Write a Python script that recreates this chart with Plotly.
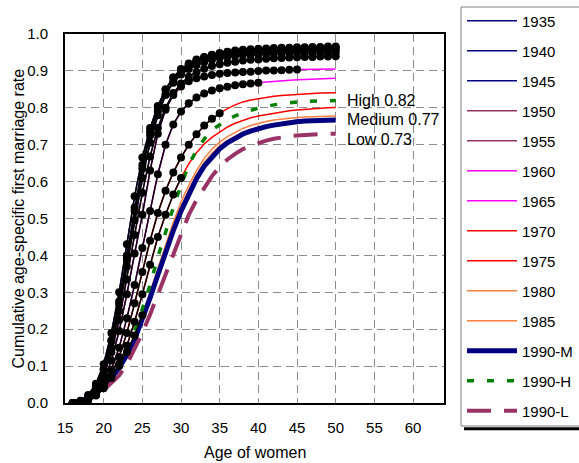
import plotly.graph_objects as go

# Ages of women (x axis)
AGES = list(range(16, 51))

# Cumulative age-specific first marriage rates by birth cohort, ages 16..50
C1935 = [0.000, 0.004, 0.014, 0.036, 0.078, 0.150, 0.250, 0.370, 0.495, 0.610,
         0.705, 0.780, 0.835, 0.872, 0.898, 0.916, 0.928, 0.937, 0.943, 0.948,
         0.952, 0.955, 0.957, 0.959, 0.960, 0.961, 0.962, 0.963, 0.963, 0.964,
         0.964, 0.965, 0.965, 0.966, 0.966]
C1940 = [0.000, 0.004, 0.016, 0.042, 0.090, 0.170, 0.275, 0.400, 0.530, 0.645,
         0.735, 0.800, 0.848, 0.882, 0.905, 0.920, 0.931, 0.938, 0.944, 0.948,
         0.951, 0.953, 0.955, 0.956, 0.957, 0.958, 0.959, 0.960, 0.960, 0.961,
         0.961, 0.962, 0.962, 0.962, 0.963]
C1945 = [0.000, 0.006, 0.022, 0.052, 0.105, 0.190, 0.300, 0.430, 0.560, 0.665,
         0.745, 0.805, 0.850, 0.882, 0.903, 0.917, 0.927, 0.934, 0.939, 0.943,
         0.946, 0.948, 0.950, 0.951, 0.952, 0.953, 0.954, 0.954, 0.955, 0.955,
         0.956, 0.956, 0.956, 0.957, 0.957]
C1950 = [0.000, 0.005, 0.018, 0.045, 0.092, 0.168, 0.268, 0.390, 0.520, 0.635,
         0.725, 0.790, 0.836, 0.868, 0.890, 0.905, 0.916, 0.924, 0.930, 0.935,
         0.938, 0.941, 0.943, 0.944, 0.945, 0.946, 0.947, 0.948, 0.948, 0.949,
         0.949, 0.949, 0.950, 0.950, 0.950]
C1955 = [0.000, 0.004, 0.014, 0.036, 0.075, 0.138, 0.225, 0.335, 0.455, 0.570,
         0.668, 0.745, 0.800, 0.840, 0.866, 0.884, 0.897, 0.906, 0.913, 0.918,
         0.922, 0.925, 0.928, 0.930, 0.931, 0.933, 0.934, 0.935, 0.936, 0.937,
         0.938, 0.938, 0.939, 0.939, 0.940]
C1960 = [0.000, 0.003, 0.012, 0.030, 0.062, 0.115, 0.195, 0.295, 0.405, 0.510,
         0.630, 0.730, 0.795, 0.835, 0.858, 0.872, 0.880, 0.885, 0.889, 0.892,
         0.894, 0.896, 0.897, 0.898, 0.900, 0.901, 0.901, 0.902, 0.903, 0.904,
         0.904, 0.905, 0.905, 0.905, 0.905]
C1965 = [0.000, 0.003, 0.010, 0.025, 0.050, 0.090, 0.150, 0.230, 0.320, 0.420,
         0.520, 0.620, 0.700, 0.755, 0.790, 0.812, 0.828, 0.839, 0.847, 0.853,
         0.857, 0.861, 0.864, 0.866, 0.868, 0.870, 0.872, 0.873, 0.875, 0.876,
         0.877, 0.878, 0.879, 0.879, 0.880]
C1970 = [0.000, 0.003, 0.009, 0.022, 0.044, 0.078, 0.125, 0.190, 0.270, 0.355,
         0.440, 0.515, 0.575, 0.625, 0.665, 0.700, 0.728, 0.752, 0.770, 0.785,
         0.798, 0.808, 0.816, 0.821, 0.825, 0.828, 0.831, 0.833, 0.835, 0.837,
         0.838, 0.839, 0.840, 0.840, 0.841]
C1975 = [0.000, 0.003, 0.008, 0.020, 0.040, 0.068, 0.105, 0.155, 0.220, 0.295,
         0.375, 0.450, 0.510, 0.565, 0.610, 0.648, 0.678, 0.702, 0.720, 0.735,
         0.748, 0.758, 0.766, 0.773, 0.778, 0.782, 0.786, 0.789, 0.792, 0.794,
         0.796, 0.798, 0.799, 0.800, 0.801]
C1980 = [0.000, 0.005, 0.013, 0.027, 0.047, 0.073, 0.100, 0.138, 0.183, 0.238,
         0.300, 0.365, 0.430, 0.490, 0.545, 0.590, 0.630, 0.663, 0.688, 0.707,
         0.722, 0.734, 0.744, 0.752, 0.758, 0.763, 0.767, 0.770, 0.772, 0.774,
         0.775, 0.776, 0.777, 0.777, 0.778]
C1985 = [0.000, 0.004, 0.012, 0.025, 0.046, 0.071, 0.098, 0.134, 0.177, 0.231,
         0.292, 0.355, 0.419, 0.477, 0.531, 0.578, 0.619, 0.652, 0.677, 0.697,
         0.712, 0.724, 0.734, 0.742, 0.748, 0.753, 0.757, 0.761, 0.764, 0.766,
         0.767, 0.768, 0.769, 0.770, 0.770]
C1990_M = [0.000, 0.004, 0.011, 0.024, 0.044, 0.068, 0.095, 0.130, 0.172, 0.225,
           0.285, 0.347, 0.410, 0.467, 0.520, 0.567, 0.608, 0.642, 0.668, 0.689,
           0.705, 0.718, 0.729, 0.737, 0.744, 0.749, 0.753, 0.757, 0.760, 0.762,
           0.764, 0.765, 0.766, 0.767, 0.767]
C1990_H = [0.000, 0.005, 0.013, 0.027, 0.048, 0.075, 0.105, 0.145, 0.195, 0.255,
           0.320, 0.395, 0.465, 0.530, 0.590, 0.645, 0.685, 0.715, 0.740, 0.755,
           0.768, 0.778, 0.786, 0.793, 0.799, 0.804, 0.808, 0.811, 0.814, 0.816,
           0.817, 0.818, 0.819, 0.820, 0.820]
C1990_L = [0.000, 0.004, 0.010, 0.020, 0.035, 0.055, 0.075, 0.105, 0.145, 0.190,
           0.240, 0.295, 0.350, 0.405, 0.460, 0.510, 0.550, 0.585, 0.615, 0.640,
           0.660, 0.675, 0.688, 0.697, 0.705, 0.711, 0.716, 0.720, 0.723, 0.725,
           0.727, 0.728, 0.729, 0.730, 0.730]

COHORTS = ["1935", "1940", "1945", "1950", "1955", "1960", "1965",
           "1970", "1975", "1980", "1985"]
COHORT_VALUES = [C1935, C1940, C1945, C1950, C1955, C1960, C1965,
                 C1970, C1975, C1980, C1985]
# Last age with observed (not projected) data for each cohort
OBSERVED_TO = [50, 50, 50, 50, 50, 45, 40, 35, 30, 25, 20]

COHORT_COLORS = ["#000080", "#000080", "#000080", "#993366", "#993366",
                 "#FF00FF", "#FF00FF", "#FF0000", "#FF0000", "#FF8040", "#FF8040"]

FONT = "Liberation Sans, Arial, sans-serif"

fig = go.Figure()

# Projected cohort curves (full age range)
for name, vals, col in zip(COHORTS, COHORT_VALUES, COHORT_COLORS):
    fig.add_trace(go.Scatter(
        x=AGES, y=vals, mode="lines", name=name, legendgroup=name,
        line=dict(color=col, width=1.5)))

# 1990 cohort scenarios
fig.add_trace(go.Scatter(
    x=AGES, y=C1990_M, mode="lines", name="1990-M", legendgroup="1990-M",
    line=dict(color="#000080", width=5)))
fig.add_trace(go.Scatter(
    x=AGES, y=C1990_H, mode="lines", name="1990-H", legendgroup="1990-H",
    line=dict(color="#008000", width=3.5, dash="7px,13px")))
fig.add_trace(go.Scatter(
    x=AGES, y=C1990_L, mode="lines", name="1990-L", legendgroup="1990-L",
    line=dict(color="#993366", width=4, dash="24px,13px")))

# Observed part of each cohort: black dots joined by a black line
for name, vals, last in zip(COHORTS, COHORT_VALUES, OBSERVED_TO):
    n = AGES.index(last) + 1
    fig.add_trace(go.Scatter(
        x=AGES[:n], y=vals[:n], mode="lines+markers", showlegend=False,
        legendgroup=name, hoverinfo="skip",
        line=dict(color="black", width=1.5),
        marker=dict(color="black", size=8)))

# Labels for the 1990 scenario end values
for label, vals, shift in [("High", C1990_H, 0), ("Medium", C1990_M, 0),
                           ("Low", C1990_L, -6)]:
    fig.add_annotation(x=51.2, y=vals[-1], xref="x", yref="y",
                       text=f"{label} {vals[-1]:.2f}", showarrow=False,
                       xanchor="left", yanchor="middle", yshift=shift,
                       font=dict(family=FONT, size=16, color="black"))

# Axis titles
fig.add_annotation(x=0.5, y=-0.133, xref="paper", yref="paper",
                   text="Age of women", showarrow=False,
                   xanchor="center", yanchor="middle",
                   font=dict(family=FONT, size=16, color="black"))
fig.add_annotation(x=-0.124, y=0.5, xref="paper", yref="paper",
                   text="Cumulative age-specific first marriage rate",
                   showarrow=False, textangle=-90,
                   xanchor="center", yanchor="middle",
                   font=dict(family=FONT, size=16, color="black"))

# Legend frame with a drop shadow
fig.add_shape(type="rect", xref="paper", yref="paper",
              x0=1.0449, x1=1.40, y0=-0.0623, y1=1.0732,
              line=dict(color="#808080", width=1), fillcolor="white", layer="below")
fig.add_shape(type="line", xref="paper", yref="paper",
              x0=1.0528, x1=1.40, y0=-0.0700, y1=-0.0700,
              line=dict(color="black", width=3))

grid = dict(showgrid=True, gridcolor="#8c8c8c", gridwidth=1, griddash="8px,5px")

fig.update_xaxes(range=[15, 64], tickvals=list(range(15, 65, 5)),
                 showline=True, linecolor="black", linewidth=2, mirror=True,
                 ticks="", zeroline=False, ticklabelstandoff=10,
                 tickfont=dict(family=FONT, size=15, color="black"), **grid)
fig.update_yaxes(range=[0, 1.0], tickvals=[i / 10 for i in range(11)],
                 tickformat=".1f",
                 showline=True, linecolor="black", linewidth=2, mirror=True,
                 ticks="", zeroline=False, ticklabelstandoff=12,
                 tickfont=dict(family=FONT, size=15, color="black"), **grid)

fig.update_layout(
    width=579, height=463,
    margin=dict(l=65, r=135, t=34, b=60, autoexpand=False),
    paper_bgcolor="white", plot_bgcolor="white",
    showlegend=True,
    legend=dict(x=1.0475, y=1.080, xanchor="left", yanchor="top",
                bgcolor="rgba(0,0,0,0)", borderwidth=0,
                tracegroupgap=7.5, itemwidth=50, maxheight=460,
                font=dict(family=FONT, size=15, color="black")),
    font=dict(family=FONT, color="black"),
)

fig.write_html("out.html")
